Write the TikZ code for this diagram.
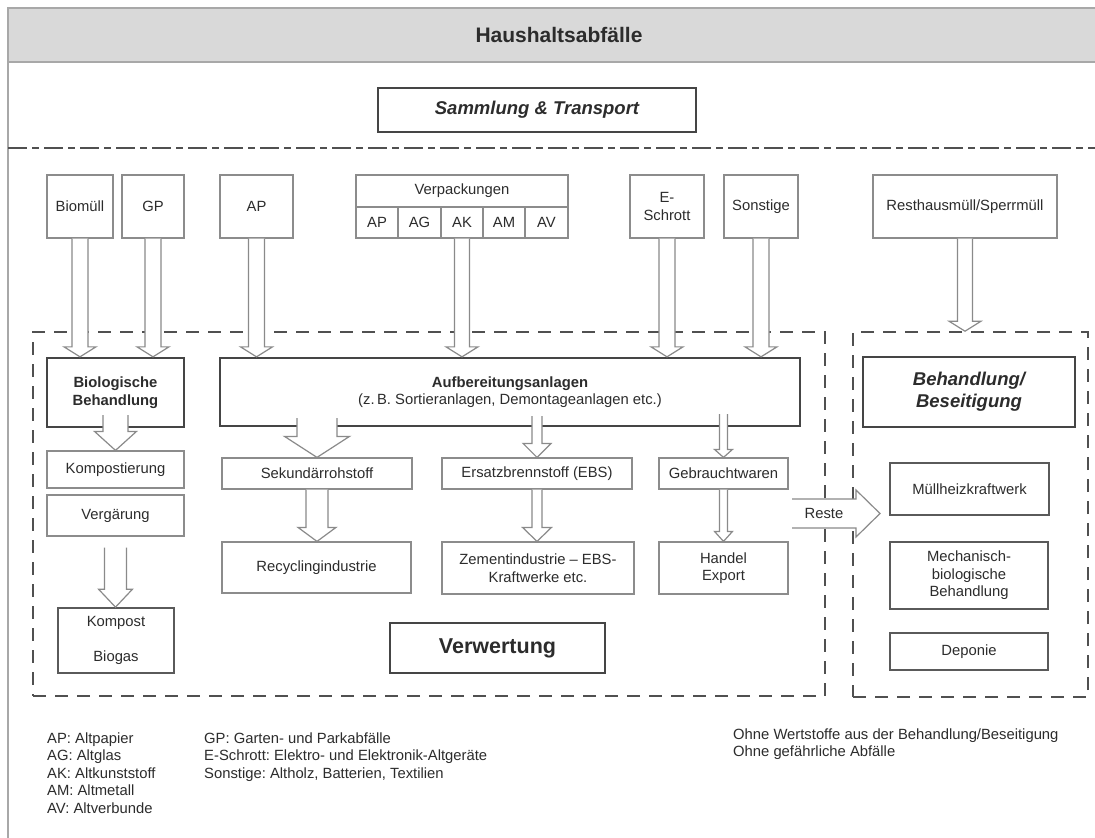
\documentclass[tikz,border=0pt]{standalone}
\usepackage{fontspec}
\setmainfont{Liberation Sans}
\usetikzlibrary{calc}
\frenchspacing
\definecolor{txt}{HTML}{2C2C2C}
\definecolor{thinc}{HTML}{8C8C8C}
\definecolor{thickc}{HTML}{454545}
\definecolor{medc}{HTML}{5A5A5A}
\definecolor{bandc}{HTML}{D9D9D9}
\definecolor{framec}{HTML}{A8A8A8}
\definecolor{dshc}{HTML}{505050}
\definecolor{arrc}{HTML}{8A8A8A}
\newcommand\myfont{\fontsize{14.8bp}{17.5bp}\selectfont}
\tikzset{
  box/.style={draw=thinc, line width=1.2bp, fill=white, inner sep=0pt, align=center, text=txt, font=\myfont},
  medbox/.style={draw=medc, line width=1.7bp},
  thickbox/.style={draw=thickc, line width=2.3bp},
  dbox/.style={draw=dshc, line width=1.6bp, dash pattern=on 13bp off 9bp, fill=none},
  arr/.style={draw=arrc, line width=1.2bp, line join=miter},
  legend/.style={anchor=base west, inner sep=0pt, text=txt, font=\myfont},
}
% #1 extra style, #2 name, #3 x1, #4 y1, #5 x2, #6 y2, #7 text
\newcommand\rbox[7][]{%
  \node[box,#1,minimum width={((#5)-(#3))*1bp},minimum height={((#6)-(#4))*1bp}]
    (#2) at ({((#3)+(#5))/2},{((#4)+(#6))/2}) {#7};}
% hollow block arrow: #1 start coord, #2 tip coord (y only), #3 shaft half width, #4 head half width, #5 head length
\newcommand\barrow[5]{%
  \fill[white] let \p1=#1, \p2=#2 in
    (\x1-#3bp,\y1) -- (\x1-#3bp,\y2+#5bp) -- (\x1-#4bp,\y2+#5bp) -- (\x1,\y2)
    -- (\x1+#4bp,\y2+#5bp) -- (\x1+#3bp,\y2+#5bp) -- (\x1+#3bp,\y1) -- cycle;
  \draw[arr] let \p1=#1, \p2=#2 in
    (\x1-#3bp,\y1) -- (\x1-#3bp,\y2+#5bp) -- (\x1-#4bp,\y2+#5bp) -- (\x1,\y2)
    -- (\x1+#4bp,\y2+#5bp) -- (\x1+#3bp,\y2+#5bp) -- (\x1+#3bp,\y1);}
\begin{document}
\begin{tikzpicture}[x=1bp,y=-1bp]
\clip (0,0) rectangle (1095,838);
\fill[white] (0,0) rectangle (1095,838);
% frame and header
\draw[framec, line width=2bp] (8,8) rectangle (1110,850);
\node[fill=bandc, draw=framec, line width=1.5bp, minimum width=1102bp, minimum height=54bp, inner sep=0pt,
      font=\fontsize{21bp}{25bp}\selectfont\bfseries, text=txt] (head) at (559,35) {Haushaltsabfälle};
\rbox[thickbox, font=\fontsize{18.5bp}{22bp}\selectfont\bfseries\itshape]{samm}{378}{88}{696}{132}{Sammlung \& Transport}
\coordinate (dl) at (8,148);
\coordinate (dr) at (1095,148);
\draw[dshc, line width=2bp, dash pattern=on 19bp off 5bp on 7bp off 5bp] (dl) -- (dr);

% dashed regions
\rbox[dbox]{lb}{33}{332}{825}{696}{}
\rbox[dbox]{rb}{853}{332}{1088}{697}{}

% sources
\rbox{bio}{47}{175}{113}{238}{Biomüll}
\rbox{gp}{122}{175}{184}{238}{GP}
\rbox{ap}{220}{175}{293}{238}{AP}
\rbox{verp}{356}{175}{568}{207}{Verpackungen}
\rbox{vap}{356}{207}{398}{238}{AP}
\rbox{vag}{398}{207}{441}{238}{AG}
\rbox{vak}{441}{207}{483}{238}{AK}
\rbox{vam}{483}{207}{525}{238}{AM}
\rbox{vav}{525}{207}{568}{238}{AV}
\rbox{esch}{630}{175}{704}{238}{E-\\Schrott}
\rbox{sonst}{724}{175}{798}{238}{Sonstige}
\rbox{rest}{873}{175}{1057}{238}{Resthausmüll/Sperrmüll}

% processing
\rbox[thickbox, font=\myfont\bfseries]{bb}{47}{358}{184}{427}{Biologische\\Behandlung}
\rbox[thickbox]{auf}{220}{358}{800}{426}{\textbf{Aufbereitungsanlagen}\\(z.\,B. Sortieranlagen, Demontageanlagen etc.)}
\rbox{komp}{47}{451}{184}{488}{Kompostierung}
\rbox{verg}{47}{495}{184}{536}{Vergärung}
\rbox[medbox]{kb}{58}{608}{174}{673}{Kompost\\[18bp]Biogas}
\rbox{sek}{222}{458}{412}{489}{Sekundärrohstoff}
\rbox{recy}{222}{542}{411}{593}{Recyclingindustrie}
\rbox{ebs}{442}{458}{632}{489}{Ersatzbrennstoff (EBS)}
\rbox{zem}{442}{542}{634}{594}{Zementindustrie – EBS-\\Kraftwerke etc.}
\rbox{geb}{659}{458}{788}{489}{Gebrauchtwaren}
\rbox{hand}{659}{542}{788}{594}{Handel\\Export}
\rbox[thickbox, font=\fontsize{21.5bp}{25bp}\selectfont\bfseries]{verw}{390}{623}{605}{673}{Verwertung}
\rbox[thickbox, font=\fontsize{18.5bp}{22bp}\selectfont\bfseries\itshape]{beh}{863}{357}{1075}{427}{Behandlung/\\Beseitigung}
\rbox[medbox]{mhkw}{890}{463}{1049}{515}{Müllheizkraftwerk}
\rbox[medbox]{mbb}{890}{542}{1048}{609}{Mechanisch-\\biologische\\Behandlung}
\rbox[medbox]{dep}{890}{633}{1048}{670}{Deponie}

% arrows from sources
\barrow{(bio.south)}{(bb.north)}{8}{16}{10}
\barrow{(gp.south)}{(bb.north)}{8}{16}{10}
\barrow{(ap.south)}{(auf.north)}{8}{16}{10}
\barrow{(vak.south)}{(auf.north)}{7.5}{16}{10}
\barrow{(esch.south)}{(auf.north)}{8}{16}{10}
\barrow{(sonst.south)}{(auf.north)}{8}{16}{10}
\barrow{(rest.south)}{(rb.north)}{7.5}{16}{10}
% internal arrows
\barrow{($(bb.south)+(0,-13)$)}{(komp.north)}{12.5}{21}{19}
\barrow{($(verg.south)+(0,11)$)}{(kb.north)}{11}{17}{18}
\barrow{($(auf.south -| sek.north)+(0,-9)$)}{(sek.north)}{20}{32.5}{21}
\barrow{(sek.south)}{(recy.north)}{11}{19}{14}
\barrow{($(auf.south -| ebs.north)+(0,-11)$)}{(ebs.north)}{5}{14}{14}
\barrow{(ebs.south)}{(zem.north)}{5}{14.5}{14}
\barrow{($(auf.south -| geb.north)+(0,-13)$)}{(geb.north)}{4}{9}{8}
\barrow{(geb.south)}{(hand.north)}{4}{9}{10}

% Reste arrow
\coordinate (rs) at (792,513.5);
\coordinate (rt) at (880,513.5);
\fill[white] (rs) ++(0,-14.5) -- ++(64,0) -- ++(0,-9) -- (rt) -- ++(-24,23.5) -- ++(0,-9) -- ++(-64,0) -- cycle;
\draw[arr] (rs) ++(0,-14.5) -- ++(64,0) -- ++(0,-9) -- (rt) -- ++(-24,23.5) -- ++(0,-9) -- ++(-64,0);
\node[text=txt, font=\myfont, inner sep=0pt] (reste) at (824,513.5) {Reste};

% legend (baselines)
\node[legend] (l1) at (47,743) {AP: Altpapier};
\node[legend] (l2) at (47,760.5) {AG: Altglas};
\node[legend] (l3) at (47,778) {AK: Altkunststoff};
\node[legend] (l4) at (47,795.5) {AM: Altmetall};
\node[legend] (l5) at (47,813) {AV: Altverbunde};
\node[legend] (m1) at (204,743) {GP: Garten- und Parkabfälle};
\node[legend] (m2) at (204,760.5) {E-Schrott: Elektro- und Elektronik-Altgeräte};
\node[legend] (m3) at (204,778) {Sonstige: Altholz, Batterien, Textilien};
\node[legend] (r1) at (733,739) {Ohne Wertstoffe aus der Behandlung/Beseitigung};
\node[legend] (r2) at (733,756.5) {Ohne gefährliche Abfälle};
\end{tikzpicture}
\end{document}
